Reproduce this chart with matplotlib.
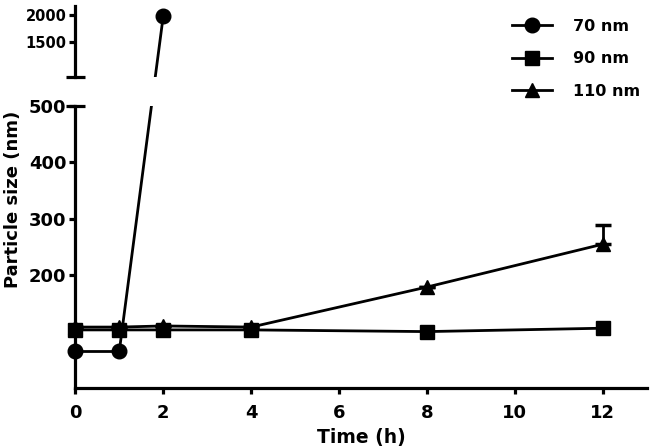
import numpy as np
import matplotlib.pyplot as plt

# data
time_h = [0, 1, 2, 4, 8, 12]
time_70 = [0, 1, 2]
size_70 = [66, 66, 1990]
size_90 = [103, 103, 103, 103, 100, 106]
size_110 = [108, 108, 110, 108, 179, 255]
err_110 = [0, 0, 0, 0, 0, 34]
labels = ['70 nm', '90 nm', '110 nm']

plt.rcParams['font.family'] = 'DejaVu Sans'
plt.rcParams['font.weight'] = 'bold'

fig = plt.figure(figsize=(6.5, 4.47), dpi=100)
ax_lo = fig.add_axes([0.1160, 0.1320, 0.8790, 0.6309])
ax_hi = fig.add_axes([0.1160, 0.8277, 0.8790, 0.1588])

lw = 2.0
ms = 10.5
ax_lo.set_xlim(0, 13)
ax_lo.set_ylim(0, 500)
ax_hi.set_xlim(0, 13)
ax_hi.set_ylim(865, 2165)

for ax in (ax_lo, ax_hi):
    for s in ('top', 'right'):
        ax.spines[s].set_visible(False)
    ax.spines['left'].set_linewidth(2.3)
    ax.spines['bottom'].set_linewidth(2.3)
    ax.tick_params(width=2.3, length=4.5, labelsize=13, pad=2)

ax_lo.tick_params(axis='x', pad=7)
ax_hi.spines['bottom'].set_visible(False)
ax_hi.set_xticks([])
ax_hi.set_yticks([1500, 2000])
ax_hi.tick_params(axis='y', labelsize=10.5)
ax_lo.set_yticks([200, 300, 400, 500])
ax_lo.set_xticks(range(0, 13, 2))

# break caps
for ax, yy in ((ax_lo, 1.0), (ax_hi, 0.0)):
    ax.plot([-0.0157, 0.0175], [yy, yy], transform=ax.transAxes,
            color='black', lw=2.3, clip_on=False, solid_capstyle='butt')

# 70 nm: lower part, then segment across the break drawn straight on screen
low = [(t, v) for t, v in zip(time_70, size_70) if v <= 500]
high = [(t, v) for t, v in zip(time_70, size_70) if v > 500]
ax_lo.plot([p[0] for p in low], [p[1] for p in low], color='black', lw=lw,
           marker='o', ms=ms, clip_on=False, zorder=3)
ax_hi.plot([p[0] for p in high], [p[1] for p in high], color='black', lw=lw,
           marker='o', ms=ms, clip_on=False, zorder=3, ls='none')
p_a = ax_lo.transData.transform(low[-1])
p_b = ax_hi.transData.transform(high[0])
seg_lo = ax_lo.transData.inverted().transform([p_a, p_b])
seg_hi = ax_hi.transData.inverted().transform([p_a, p_b])
ax_lo.plot(seg_lo[:, 0], seg_lo[:, 1], color='black', lw=lw, zorder=2)
ax_hi.plot(seg_hi[:, 0], seg_hi[:, 1], color='black', lw=lw, zorder=2)

ax_lo.plot(time_h, size_110, color='black', lw=lw, marker='^', ms=ms,
           clip_on=False, zorder=3)
ax_lo.errorbar(time_h, size_110, yerr=[np.zeros(len(err_110)), err_110],
               fmt='none', ecolor='black', elinewidth=lw, capsize=6,
               capthick=2.5, zorder=3)
ax_lo.plot(time_h, size_90, color='black', lw=lw, marker='s', ms=ms,
           clip_on=False, zorder=4)

# legend
handles = [plt.Line2D([], [], color='black', lw=lw, marker=m, ms=ms)
           for m in ('o', 's', '^')]
fig.legend(handles, labels, loc='upper left', bbox_to_anchor=(0.77, 0.983),
           frameon=False, fontsize=11.5, handlelength=2.55, handletextpad=1.3,
           labelspacing=1.1, borderpad=0.2)

ax_lo.set_xlabel('Time (h)', fontsize=13.5, fontweight='bold', labelpad=4)
fig.text(0.02, 0.553, 'Particle size (nm)', rotation=90, fontsize=13,
         fontweight='bold', ha='center', va='center')

fig.savefig('out.png', dpi=100)
